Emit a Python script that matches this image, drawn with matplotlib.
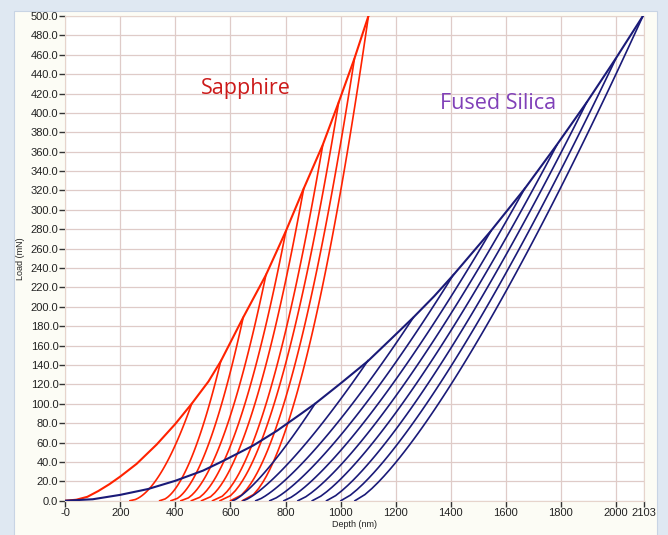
import numpy as np
import matplotlib
matplotlib.use("Agg")
import matplotlib.pyplot as plt
from matplotlib.patches import Rectangle

# ---- data ----
sap_load_depth = [0, 40, 80, 120, 160, 200, 259, 332, 399, 459, 520, 565, 646, 729, 801, 866, 935, 993, 1050, 1101]
sap_load_force = [0, 1, 4, 10, 17, 25, 38, 58, 79, 100, 123, 144, 189, 233, 278, 322, 367, 411, 456, 500]
sap_peak_depth = [459, 565, 646, 729, 801, 866, 935, 993, 1050, 1101]
sap_peak_load = [100, 144.4, 188.9, 233.3, 277.8, 322.2, 366.7, 411.1, 455.6, 500]
sap_final_depth = [235, 343, 384, 420, 458, 495, 535, 562, 600, 643]
sap_unload_exponent = 1.8

fs_load_depth = [0, 100, 199, 300, 399, 500, 573, 683, 768, 853, 907, 1000, 1099, 1180, 1264, 1340,
                 1410, 1545, 1669, 1785, 1894, 1999, 2098]
fs_load_force = [0, 1.5, 6, 12, 20.5, 31, 41, 57, 72, 89, 100, 121, 144, 166, 189, 211,
                 233, 278, 322, 367, 411, 456, 500]
fs_peak_depth = [907, 1099, 1264, 1410, 1545, 1669, 1785, 1894, 1999, 2098]
fs_peak_load = [100, 144.4, 188.9, 233.3, 277.8, 322.2, 366.7, 411.1, 455.6, 500]
fs_final_depth = [608, 646, 692, 743, 794, 845, 897, 949, 1001, 1052]
fs_unload_exponent = 1.3

x_ticks = [0, 200, 400, 600, 800, 1000, 1200, 1400, 1600, 1800, 2000, 2103]
x_tick_labels = ["-0", "200", "400", "600", "800", "1000", "1200", "1400", "1600", "1800", "2000", "2103"]
y_ticks = list(range(0, 501, 20))
y_tick_labels = [f"{v:.1f}" for v in y_ticks]

RED = "#ff2200"
BLUE = "#1a1a78"

fig = plt.figure(figsize=(6.68, 5.35), dpi=100)
fig.patch.set_facecolor("#dfe8f2")
bg = fig.add_axes([0, 0, 1, 1], zorder=-5)
bg.set_xlim(0, 668)
bg.set_ylim(535, 0)
bg.axis("off")
bg.add_patch(Rectangle((14, 11), 643, 530, facecolor="#fcfcf5",
                       edgecolor="#c8d4e4", linewidth=0.8))

ax = fig.add_axes([65.3 / 668, (535 - 500.7) / 535, (644.3 - 65.3) / 668, (500.7 - 16) / 535])
ax.set_facecolor("white")
ax.set_xlim(0, 2103)
ax.set_ylim(0, 500)


def draw_set(ld, lf, pd, pl, fd, m, color):
    ax.plot(ld, lf, color=color, lw=1.5, zorder=3)
    for hmax, pmax, hf in zip(pd, pl, fd):
        frac = np.linspace(1, 0, 80)
        p = pmax * frac
        h = hf + (hmax - hf) * frac ** (1.0 / m)
        ax.plot(h, p, color=color, lw=1.2, zorder=3)


draw_set(sap_load_depth, sap_load_force, sap_peak_depth, sap_peak_load, sap_final_depth,
         sap_unload_exponent, RED)
draw_set(fs_load_depth, fs_load_force, fs_peak_depth, fs_peak_load, fs_final_depth,
         fs_unload_exponent, BLUE)

ax.set_xticks(x_ticks)
ax.set_xticklabels(x_tick_labels)
ax.set_yticks(y_ticks)
ax.set_yticklabels(y_tick_labels)
ax.grid(True, color="#dfcbc8", lw=0.9, zorder=0)
ax.set_axisbelow(True)
for s in ax.spines.values():
    s.set_color("#e6d4cc")
    s.set_linewidth(0.8)
ax.tick_params(axis="both", direction="out", length=4, width=1.0, color="#333333",
               labelsize=8, labelcolor="#222222", pad=1)
for lbl in ax.get_xticklabels() + ax.get_yticklabels():
    lbl.set_family("Liberation Sans")

ax.set_xlabel("Depth (nm)", fontsize=6.5, family="Liberation Sans", labelpad=2, color="#222222")
ax.set_ylabel("Load (mN)", fontsize=6.5, family="Liberation Sans", labelpad=4, color="#222222")

ax.text(657, 425, "Sapphire", color="#cc1a1a", fontsize=15.5, family="Open Sans",
        ha="center", va="center", zorder=4)
ax.text(1572, 410, "Fused Silica", color="#8040b8", fontsize=15.5, family="Open Sans",
        ha="center", va="center", zorder=4)

fig.savefig("out.png", dpi=100, facecolor=fig.get_facecolor())
